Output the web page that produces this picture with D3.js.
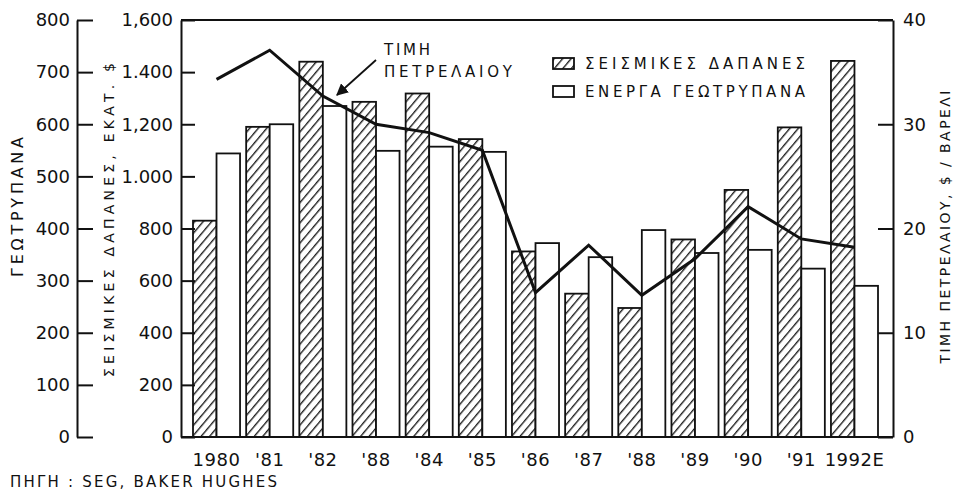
<!DOCTYPE html>
<html>
<head>
<meta charset="utf-8">
<script src="https://cdn.jsdelivr.net/npm/d3@7"></script>
<style>
  html, body { margin: 0; padding: 0; background: #fff; }
  svg { display: block; }
  text { font-family: "DejaVu Sans", "Liberation Sans", sans-serif; fill: #111; }
</style>
</head>
<body>
<svg id="chart" width="953" height="496"></svg>
<script>
// ---- data ----
const categories = ["1980", "'81", "'82", "'88", "'84", "'85", "'86", "'87", "'88", "'89", "'90", "'91", "1992E"];
const seismicSpending = [830, 1190, 1440, 1286, 1318, 1143, 712, 550, 495, 758, 948, 1188, 1443];
const activeRigs = [544, 600, 635, 549, 557, 547, 372, 345, 397, 353, 359, 323, 290];
const oilPrice = [34.3, 37.1, 32.7, 30.0, 29.2, 27.5, 13.85, 18.4, 13.6, 17.1, 22.1, 19.0, 18.2];
const rigTicks = [0, 100, 200, 300, 400, 500, 600, 700, 800];
const spendTicks = [0, 200, 400, 600, 800, 1000, 1200, 1400, 1600];
const spendTickLabels = ["0", "200", "400", "600", "800", "1.000", "1,200", "1.400", "1,600"];
const priceTicks = [0, 10, 20, 30, 40];
const legendLabels = ["ΣΕΙΣΜΙΚΕΣ ΔΑΠΑΝΕΣ", "ΕΝΕΡΓΑ ΓΕΩΤΡΥΠΑΝΑ"];
const titleRigs = "ΓΕΩΤΡΥΠΑΝΑ";
const titleSpend = "ΣΕΙΣΜΙΚΕΣ ΔΑΠΑΝΕΣ, ΕΚΑΤ. $";
const titlePrice = "ΤΙΜΗ ΠΕΤΡΕΛΑΙΟΥ, $ / ΒΑΡΕΛΙ";
const annotationLines = ["ΤΙΜΗ", "ΠΕΤΡΕΛΑΙΟΥ"];
const sourceText = "ΠΗΓΗ : SEG, BAKER HUGHES";

// ---- layout ----
const svg = d3.select("#chart");
const plotLeft = 181, plotRight = 893, plotTop = 20, plotBottom = 437;
const outerAxisX = 77;
const ink = "#111";

const x = d3.scaleBand().domain(d3.range(categories.length)).range([193, 878]).paddingInner(0.115).paddingOuter(0);
const xs = d3.scaleBand().domain(["seismic", "rigs"]).range([0, x.bandwidth()]);
const ySpend = d3.scaleLinear().domain([0, 1600]).range([plotBottom, plotTop]);
const yRigs = d3.scaleLinear().domain([0, 800]).range([plotBottom, plotTop]);
const yPrice = d3.scaleLinear().domain([0, 40]).range([plotBottom, plotTop]);

// hatch pattern
const defs = svg.append("defs");
const pat = defs.append("pattern").attr("id", "hatch")
  .attr("patternUnits", "userSpaceOnUse").attr("width", 6.5).attr("height", 10)
  .attr("patternTransform", "rotate(40)");
pat.append("rect").attr("width", 6.5).attr("height", 10).attr("fill", "#fff");
pat.append("line").attr("x1", 0.7).attr("y1", 0).attr("x2", 0.7).attr("y2", 10)
  .attr("stroke", ink).attr("stroke-width", 1.3);
defs.append("marker").attr("id", "arrow").attr("viewBox", "0 0 10 10")
  .attr("refX", 9).attr("refY", 5).attr("markerWidth", 7).attr("markerHeight", 7)
  .attr("markerUnits", "userSpaceOnUse").attr("orient", "auto")
  .append("path").attr("d", "M0,0 L10,5 L0,10 z").attr("fill", ink);
svg.select("#arrow").attr("markerWidth", 12).attr("markerHeight", 12);

// bars
const groups = svg.append("g").selectAll("g").data(categories).join("g")
  .attr("transform", (d, i) => `translate(${x(i)},0)`);
groups.append("rect")
  .attr("x", xs("seismic")).attr("width", xs.bandwidth())
  .attr("y", (d, i) => ySpend(seismicSpending[i]))
  .attr("height", (d, i) => ySpend(0) - ySpend(seismicSpending[i]))
  .attr("fill", "url(#hatch)").attr("stroke", ink).attr("stroke-width", 1.8);
groups.append("rect")
  .attr("x", xs("rigs")).attr("width", xs.bandwidth())
  .attr("y", (d, i) => yRigs(activeRigs[i]))
  .attr("height", (d, i) => yRigs(0) - yRigs(activeRigs[i]))
  .attr("fill", "#fff").attr("stroke", ink).attr("stroke-width", 1.8);

// price line
const line = d3.line().x((d, i) => x(i) + x.bandwidth() / 2).y(d => yPrice(d));
svg.append("path").datum(oilPrice).attr("d", line)
  .attr("fill", "none").attr("stroke", ink).attr("stroke-width", 3).attr("stroke-linejoin", "miter");

// frame top/bottom
svg.append("line").attr("x1", plotLeft).attr("x2", plotRight).attr("y1", plotTop).attr("y2", plotTop)
  .attr("stroke", ink).attr("stroke-width", 2);
svg.append("line").attr("x1", plotLeft).attr("x2", plotRight).attr("y1", plotBottom).attr("y2", plotBottom)
  .attr("stroke", ink).attr("stroke-width", 2);

function styleAxis(g) {
  g.selectAll(".domain").attr("stroke", ink).attr("stroke-width", 2);
  g.selectAll(".tick line").attr("stroke", ink).attr("stroke-width", 2);
  g.selectAll("text").attr("fill", ink).style("font-family", "'DejaVu Sans', sans-serif").style("font-size", "18px");
  g.attr("font-size", null).attr("font-family", null);
}

// outer left axis (rigs)
svg.append("g").attr("transform", `translate(${outerAxisX},0)`)
  .call(d3.axisLeft(yRigs).tickValues(rigTicks).tickSize(-16).tickSizeOuter(0).tickPadding(7))
  .call(styleAxis);
// inner left axis (seismic spending)
svg.append("g").attr("transform", `translate(${plotLeft},0)`)
  .call(d3.axisLeft(ySpend).tickValues(spendTicks).tickSize(-14).tickSizeOuter(0).tickPadding(8)
    .tickFormat((d, i) => spendTickLabels[i]))
  .call(styleAxis);
// right axis (oil price)
svg.append("g").attr("transform", `translate(${plotRight},0)`)
  .call(d3.axisRight(yPrice).tickValues(priceTicks).tickSize(-15).tickSizeOuter(0).tickPadding(10))
  .call(styleAxis);
// bottom axis
const xAxisG = svg.append("g").attr("transform", `translate(0,${plotBottom})`)
  .call(d3.axisBottom(x).tickSize(0).tickPadding(16).tickFormat(i => categories[i]))
  .call(styleAxis);
xAxisG.select(".domain").remove();
xAxisG.selectAll("text").style("letter-spacing", "0.5px");

// axis titles
function vTitle(txt, cx, cy, size, len) {
  svg.append("text").attr("transform", `translate(${cx},${cy}) rotate(-90)`)
    .attr("text-anchor", "middle").attr("dy", "0.36em")
    .attr("textLength", len).attr("lengthAdjust", "spacing")
    .style("font-size", size + "px").text(txt);
}
vTitle(titleRigs, 17, 207, 16, 140);
vTitle(titleSpend, 109, 220, 14, 314);
vTitle(titlePrice, 945, 227, 14, 273);

// legend
const legendY = [58, 86];
const lg = svg.append("g");
lg.selectAll("rect").data(legendLabels).join("rect")
  .attr("x", 553).attr("y", (d, i) => legendY[i]).attr("width", 21).attr("height", 11)
  .attr("fill", (d, i) => i === 0 ? "url(#hatch)" : "#fff")
  .attr("stroke", ink).attr("stroke-width", 1.8);
lg.selectAll("text").data(legendLabels).join("text")
  .attr("x", 585).attr("y", (d, i) => legendY[i] + 11)
  .attr("textLength", 220).attr("lengthAdjust", "spacing")
  .style("font-size", "15px").text(d => d);

// annotation
svg.append("g").selectAll("text").data(annotationLines).join("text")
  .attr("x", 384).attr("y", (d, i) => 55 + i * 22)
  .attr("textLength", (d, i) => i === 0 ? 46 : 128).attr("lengthAdjust", "spacing")
  .style("font-size", "15px").text(d => d);
svg.append("line").attr("x1", 376).attr("y1", 60).attr("x2", 337).attr("y2", 95)
  .attr("stroke", ink).attr("stroke-width", 1.8).attr("marker-end", "url(#arrow)");

// source
svg.append("text").attr("x", 10).attr("y", 487)
  .attr("textLength", 267).attr("lengthAdjust", "spacing")
  .style("font-size", "15px").text(sourceText);
</script>
</body>
</html>
